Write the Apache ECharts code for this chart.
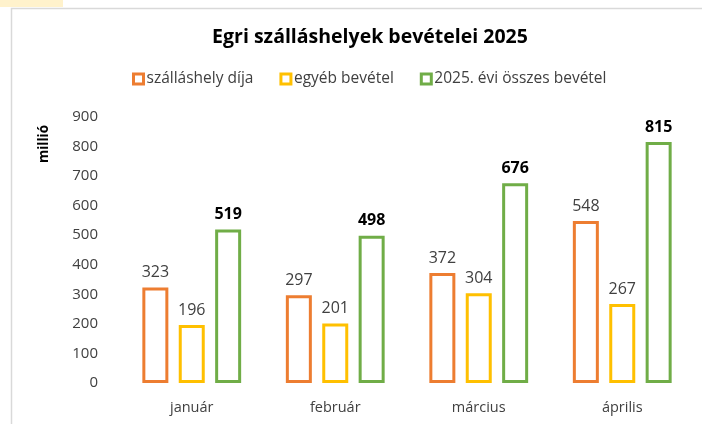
<!DOCTYPE html>
<html><head><meta charset="utf-8">
<script src="https://cdn.jsdelivr.net/npm/echarts@6/dist/echarts.min.js"></script>
<style>html,body{margin:0;padding:0;background:#fff}#c{width:702px;height:424px}</style>
</head><body><div id="c"></div>
<script>
const categories = ['január', 'február', 'március', 'április'];
const szallashelyDija = [323, 297, 372, 548];
const egyebBevetel = [196, 201, 304, 267];
const osszesBevetel = [519, 498, 676, 815];
const seriesNames = ['szálláshely díja', 'egyéb bevétel', '2025. évi összes bevétel'];
const yTicks = { min: 0, max: 900, interval: 100 };

const FONT = 'Open Sans';
const chart = echarts.init(document.getElementById('c'), null, { renderer: 'canvas' });
const mk = (name, data, color, bold) => ({
  name, type: 'bar', data, barWidth: 26, barGap: '40%',
  itemStyle: { color: '#fff', borderColor: color, borderWidth: 3 },
  label: { show: true, position: 'top', distance: 7, fontFamily: FONT, fontSize: 16,
    fontWeight: bold ? 'bold' : 'normal', color: bold ? '#000' : '#404040' },
  emphasis: { disabled: true }
});
chart.setOption({
  animation: false,
  title: { text: 'Egri szálláshelyek bevételei 2025', left: 365, top: 22, textAlign: 'center',
    textStyle: { fontFamily: FONT, fontSize: 19.5, fontWeight: 'bold', color: '#000' } },
  legend: { top: 66, left: 127, itemWidth: 10, itemHeight: 10, itemGap: 26,
    textStyle: { fontFamily: FONT, fontSize: 15.5, color: '#404040', padding: [0, 0, 0, -2] },
    data: seriesNames.map((n, i) => ({ name: n, icon: 'rect',
      itemStyle: { color: '#fff', borderColor: ['#ED7D31', '#FFC000', '#70AD47'][i], borderWidth: 3 } })) },
  grid: { left: 120, right: 8, top: 117, bottom: 41, containLabel: false },
  xAxis: { type: 'category', data: categories,
    axisLine: { show: false }, axisTick: { show: false },
    axisLabel: { fontFamily: FONT, fontSize: 14.5, color: '#404040', margin: 17 } },
  yAxis: { type: 'value', min: yTicks.min, max: yTicks.max, interval: yTicks.interval,
    splitLine: { show: false }, axisLine: { show: false }, axisTick: { show: false },
    axisLabel: { fontFamily: FONT, fontSize: 15, color: '#404040', margin: 22 } },
  graphic: [
    { type: 'rect', shape: { x: 0, y: 0, width: 63, height: 7 }, style: { fill: '#FFF2CC' }, silent: true },
    { type: 'rect', shape: { x: 11.5, y: 8.5, width: 720, height: 440 }, style: { fill: 'none', stroke: '#D9D9D9', lineWidth: 1.5 }, silent: true },
    { type: 'text', x: 44, y: 144, rotation: Math.PI / 2,
      style: { text: 'millió', fontFamily: FONT, fontSize: 13.5, fontWeight: 'bold', fill: '#000', align: 'center', verticalAlign: 'middle' } }
  ],
  series: [
    mk(seriesNames[0], szallashelyDija, '#ED7D31', false),
    mk(seriesNames[1], egyebBevetel, '#FFC000', false),
    mk(seriesNames[2], osszesBevetel, '#70AD47', true)
  ]
});
</script></body></html>
